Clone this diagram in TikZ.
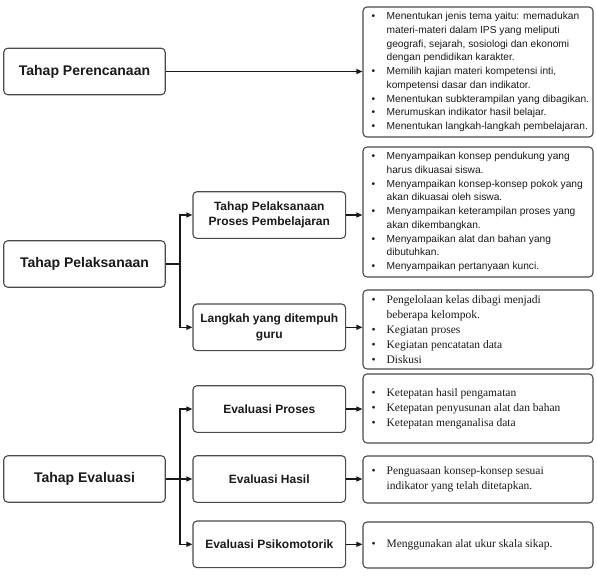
\documentclass[tikz,border=0pt]{standalone}
\usepackage{fontspec}
\setmainfont{Liberation Sans}
\newfontfamily\timesf{Liberation Serif}
\usetikzlibrary{arrows.meta}
\newcommand\bl{\makebox[15pt][l]{\textbullet}}
\newcommand\ind{\hspace*{15pt}}
\definecolor{edge}{HTML}{4A4A4A}
\definecolor{ink}{HTML}{1A1A1A}
\tikzset{
  box/.style={draw=edge, line width=1.1pt, rounded corners=4pt, fill=white, inner sep=0pt},
  leftbox/.style={box, minimum width=161.5pt, minimum height=46.5pt, font=\fontsize{14}{16}\selectfont\bfseries, text=ink},
  midbox/.style={box, minimum width=152.7pt, minimum height=46.6pt, align=center, font=\fontsize{12}{15.5}\selectfont\bfseries, text=ink},
  listbox/.style={box, minimum width=230pt},
  listtext/.style={anchor=west, inner sep=0pt, align=left, text=ink},
  sanslist/.style={listtext, font=\fontsize{10.2}{13.7}\selectfont},
  seriflist/.style={listtext, font=\timesf\fontsize{11.5}{14.8}\selectfont},
  arr/.style={draw=ink, line width=1.2pt, -{Triangle[length=6pt,width=5pt]}},
  ln/.style={draw=ink, line width=1.2pt}
}
\begin{document}
\begin{tikzpicture}[x=1pt,y=-1pt]
\useasboundingbox (0,0) rectangle (597,581);
% left column
\node[leftbox] (per) at (84.5,71.5) {Tahap Perencanaan};
\node[leftbox] (pel) at (84.5,264) {Tahap Pelaksanaan};
\node[leftbox] (eva) at (84.5,479) {Tahap Evaluasi};
% middle column
\node[midbox] (m1) at (269.3,215) {Tahap Pelaksanaan\\Proses Pembelajaran};
\node[midbox] (m2) at (269.3,327.3) {Langkah yang ditempuh\\guru};
\node[midbox] (m3) at (269.3,409) {Evaluasi Proses};
\node[midbox] (m4) at (269.3,479) {Evaluasi Hasil};
\node[midbox] (m5) at (269.3,544.3) {Evaluasi Psikomotorik};
% right column boxes
\node[listbox, minimum height=130pt] (r1) at (478,72) {};
\node[listbox, minimum height=130pt] (r2) at (478,212) {};
\node[listbox, minimum height=79pt] (r3) at (478,329.5) {};
\node[listbox, minimum height=69pt] (r4) at (478,408.5) {};
\node[listbox, minimum height=47pt] (r5) at (478,479.5) {};
\node[listbox, minimum height=46pt] (r6) at (478,545) {};
% right column texts
\node[sanslist] (t1) at ([xshift=9pt]r1.west) {%
\bl Menentukan jenis tema yaitu: memadukan\\
\ind materi-materi dalam IPS yang meliputi\\
\ind geografi, sejarah, sosiologi dan ekonomi\\
\ind dengan pendidikan karakter.\\
\bl Memilih kajian materi kompetensi inti,\\
\ind kompetensi dasar dan indikator.\\
\bl Menentukan subkterampilan yang dibagikan.\\
\bl Merumuskan indikator hasil belajar.\\
\bl Menentukan langkah-langkah pembelajaran.};
\node[sanslist] (t2) at ([xshift=9pt]r2.west) {%
\bl Menyampaikan konsep pendukung yang\\
\ind harus dikuasai siswa.\\
\bl Menyampaikan konsep-konsep pokok yang\\
\ind akan dikuasai oleh siswa.\\
\bl Menyampaikan keterampilan proses yang\\
\ind akan dikembangkan.\\
\bl Menyampaikan alat dan bahan yang\\
\ind dibutuhkan.\\
\bl Menyampaikan pertanyaan kunci.};
\node[seriflist] (t3) at ([xshift=9pt]r3.west) {%
\bl Pengelolaan kelas dibagi menjadi\\
\ind beberapa kelompok.\\
\bl Kegiatan proses\\
\bl Kegiatan pencatatan data\\
\bl Diskusi};
\node[seriflist] (t4) at ([xshift=9pt]r4.west) {%
\bl Ketepatan hasil pengamatan\\
\bl Ketepatan penyusunan alat dan bahan\\
\bl Ketepatan menganalisa data};
\node[seriflist] (t5) at ([xshift=9pt]r5.west) {%
\bl Penguasaan konsep-konsep sesuai\\
\ind indikator yang telah ditetapkan.};
\node[seriflist] (t6) at ([xshift=9pt]r6.west) {%
\bl Menggunakan alat ukur skala sikap.};
% bus coordinates
\coordinate (b1) at (180,264);
\coordinate (b2) at (180,479);
% connectors
\draw[arr] (per.east) -- (per.east -| r1.west);
\draw[ln] (pel.east) -- (b1);
\draw[arr] (b1) |- (m1.west);
\draw[arr] (b1) |- (m2.west);
\draw[ln] (eva.east) -- (b2);
\draw[arr] (b2) |- (m3.west);
\draw[arr] (b2) -- (m4.west);
\draw[arr] (b2) |- (m5.west);
\draw[arr] (m1.east) -- (m1.east -| r2.west);
\draw[arr] (m2.east) -- (m2.east -| r3.west);
\draw[arr] (m3.east) -- (m3.east -| r4.west);
\draw[arr] (m4.east) -- (m4.east -| r5.west);
\draw[arr] (m5.east) -- (m5.east -| r6.west);
\end{tikzpicture}
\end{document}
